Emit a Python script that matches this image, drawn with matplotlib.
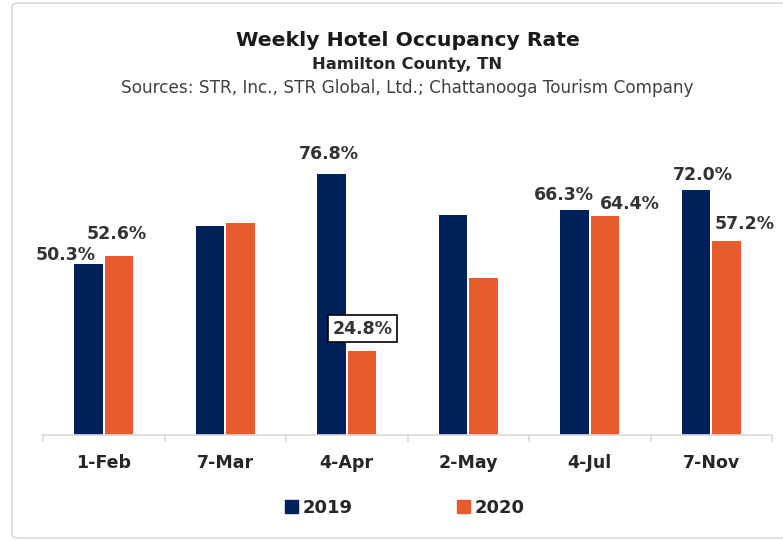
import matplotlib
matplotlib.use("Agg")
import matplotlib.pyplot as plt
import numpy as np
from matplotlib.patches import FancyBboxPatch, Patch

weeks = ["1-Feb", "7-Mar", "4-Apr", "2-May", "4-Jul", "7-Nov"]
occ_2019 = [50.3, 61.4, 76.8, 64.6, 66.3, 72.0]
occ_2020 = [52.6, 62.4, 24.8, 46.3, 64.4, 57.2]
# which bars get a value label (only the ones shown on the original)
labeled_2019 = [True, False, True, False, True, True]
labeled_2020 = [True, False, True, False, True, True]

navy = "#00215A"
orange = "#E85B2D"
txt = "#262626"

# label nudges in pixels (dx, dy from bar top to label centre)
off_2019 = {0: (-23, 9), 2: (-2, 20), 4: (-10, 15), 5: (7, 15)}
off_2020 = {0: (-2, 22), 2: (0, 22), 4: (25, 12), 5: (18, 17)}

W, H = 783, 541
fig = plt.figure(figsize=(W / 100, H / 100), dpi=100)

# outer frame
fig.patches.append(FancyBboxPatch((12 / W, 3 / H), 1.0, 535 / H,
                                  boxstyle="round,pad=0,rounding_size=0.008",
                                  transform=fig.transFigure, ec="#d9d9d9",
                                  fc="none", lw=1.2))

ax = fig.add_axes([43 / W, 106 / H, 729 / W, 306 / H])
x = np.arange(len(weeks))
bw = 0.235
ax.bar(x - 0.127, occ_2019, bw, color=navy, label="2019")
ax.bar(x + 0.127, occ_2020, bw, color=orange, label="2020")

ax.set_xlim(-0.5, len(weeks) - 0.5)
ax.set_ylim(0, 90)
for s in ["top", "right", "left"]:
    ax.spines[s].set_visible(False)
ax.spines["bottom"].set_color("#d9d9d9")
ax.spines["bottom"].set_linewidth(1.2)
ax.set_yticks([])
ax.set_xticks(x)
ax.set_xticklabels(weeks, fontsize=12.5, fontweight="bold", color=txt)
ax.tick_params(axis="x", which="major", length=0, pad=14)
ax.set_xticks(np.arange(-0.5, len(weeks)), minor=True)
ax.tick_params(axis="x", which="minor", length=5, color="#d9d9d9", width=1.2)

for i in range(len(weeks)):
    if labeled_2019[i]:
        dx, dy = off_2019[i]
        ax.annotate(f"{occ_2019[i]:.1f}%", (x[i] - 0.127, occ_2019[i]),
                    xytext=(dx, dy), textcoords="offset pixels",
                    ha="center", va="center", fontsize=12.5,
                    fontweight="bold", color="#333333")
    if labeled_2020[i]:
        dx, dy = off_2020[i]
        box = None
        if i == 2:
            box = dict(boxstyle="square,pad=0.25", fc="white", ec="black", lw=1.2)
        ax.annotate(f"{occ_2020[i]:.1f}%", (x[i] + 0.127, occ_2020[i]),
                    xytext=(dx, dy), textcoords="offset pixels",
                    ha="center", va="center", fontsize=12.5,
                    fontweight="bold", color="#333333", bbox=box)

fig.text(408 / W, 1 - 40 / H, "Weekly Hotel Occupancy Rate", ha="center",
         va="center", fontsize=14.7, fontweight="bold", color="#1a1a1a")
fig.text(407 / W, 1 - 65 / H, "Hamilton County, TN", ha="center",
         va="center", fontsize=11.8, fontweight="bold", color=txt)
fig.text(407 / W, 1 - 88 / H,
         "Sources: STR, Inc., STR Global, Ltd.; Chattanooga Tourism Company",
         ha="center", va="center", fontsize=12.2, color="#404040")

handles = [Patch(color=navy), Patch(color=orange)]
fig.legend(handles, ["2019", "2020"], loc="center", ncol=2,
           bbox_to_anchor=(405 / W, 33 / H), frameon=False,
           prop={"size": 13, "weight": "bold"}, labelcolor=txt,
           handlelength=0.7, handleheight=0.7, handletextpad=0.25,
           columnspacing=5.8)

fig.savefig("out.png", dpi=100)
